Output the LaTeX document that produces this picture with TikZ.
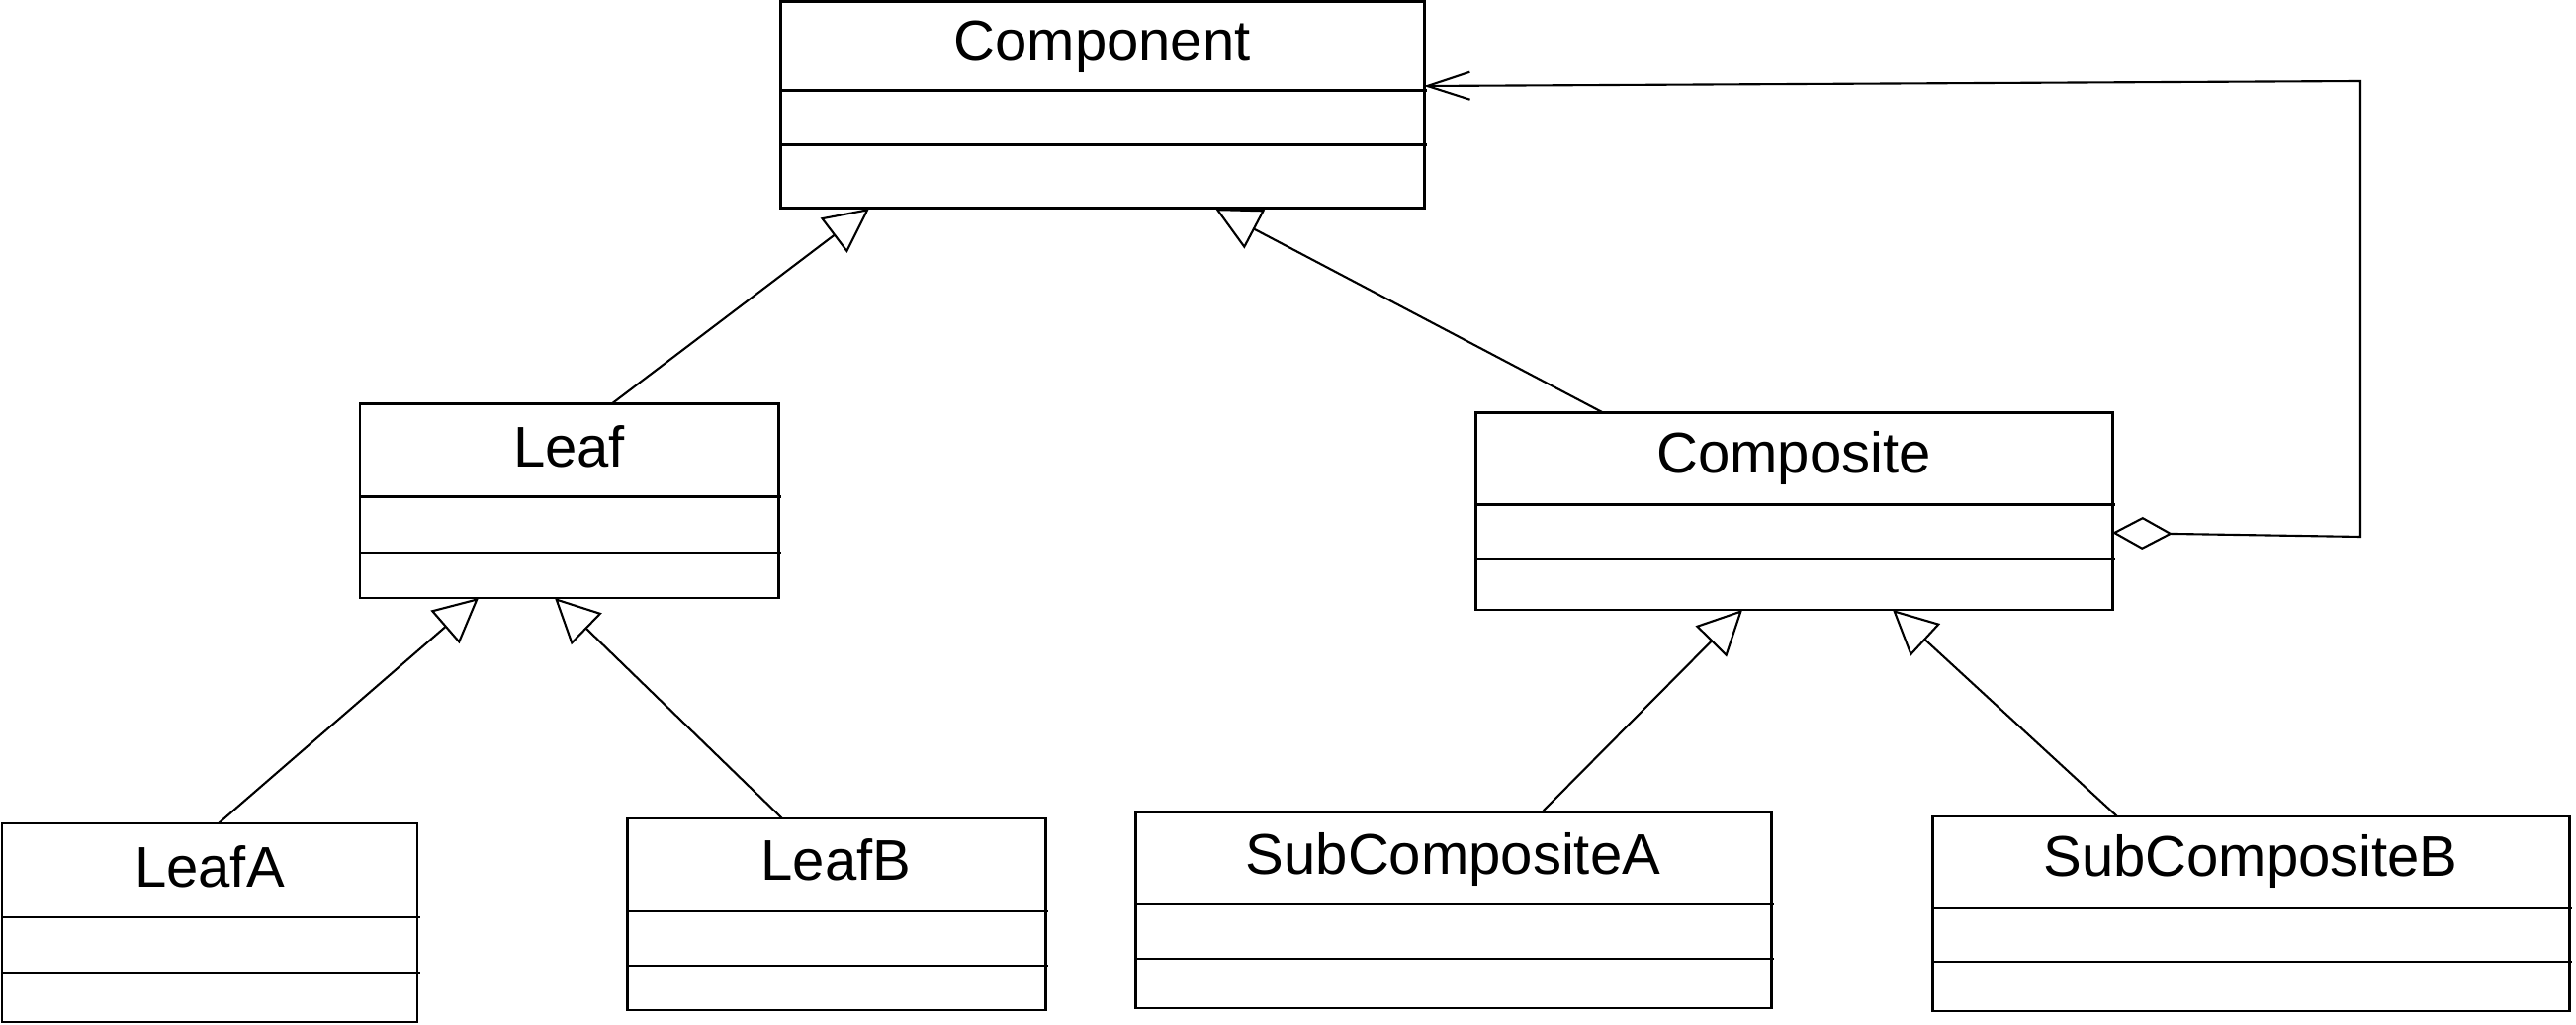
\documentclass[tikz,border=0pt]{standalone}
\usepackage{fontspec}
\setmainfont{Liberation Sans}
\usetikzlibrary{arrows.meta,fit,calc}
\tikzset{
  classbox/.style={draw, line width=0.85pt, inner sep=0pt, outer sep=0pt, rectangle},
  classtitle/.style={inner sep=0pt, anchor=base, font=\fontsize{16.5}{20}\selectfont},
  compline/.style={line width=0.85pt},
  generalize/.style={line width=0.6pt, -{Triangle[open, length=4.5mm, width=4.4mm]}},
  aggregate/.style={line width=0.6pt, {Diamond[open, length=6.1mm, width=3.3mm]}-{Straight Barb[length=4.3mm, width=2.8mm]}}
}
% #1 name, #2 x1, #3 y1, #4 x2, #5 y2, #6 line1, #7 line2, #8 baseline, #9 text
\newcommand\umlclass[9]{%
  \node[classbox, fit={(#2,#3) (#4,#5)}] (#1) {};
  \draw[compline] (#2,#6) -- (#4+3,#6);
  \draw[compline] (#2,#7) -- (#4+3,#7);
  \node[classtitle] (#1t) at ({(#2+#4)/2},#8) {#9};
}
\begin{document}
\begin{tikzpicture}[x=0.01cm, y=-0.01cm]
\useasboundingbox (0,0) rectangle (2605,1037);

\umlclass{comp}{789}{2}{1440}{211}{92}{147}{62}{Component}
\umlclass{leaf}{364}{409}{787}{605}{503}{559}{473}{Leaf}
\umlclass{cmpst}{1492}{418}{2136}{617}{511}{566}{479}{Composite}
\umlclass{leafa}{2}{833}{422}{1034}{928}{984}{898}{LeafA}
\umlclass{leafb}{634}{828}{1057}{1022}{922}{977}{891}{LeafB}
\umlclass{suba}{1148}{822}{1791}{1020}{915}{970}{885}{SubCompositeA}
\umlclass{subb}{1954}{826}{2598}{1023}{919}{973}{887}{SubCompositeB}

% generalizations
\draw[generalize] ($(leaf.north west)+(254,0)$) -- ($(comp.south west)+(90,0)$);
\draw[generalize] ($(cmpst.north west)+(130,0)$) -- ($(comp.south west)+(440,0)$);
\draw[generalize] ($(leafa.north west)+(219,0)$) -- ($(leaf.south west)+(120,0)$);
\draw[generalize] ($(leafb.north west)+(157,0)$) -- ($(leaf.south west)+(197,0)$);
\draw[generalize] ($(suba.north west)+(411,0)$) -- ($(cmpst.south west)+(270,0)$);
\draw[generalize] ($(subb.north west)+(187,0)$) -- ($(cmpst.south west)+(422,0)$);

% aggregation
\coordinate (aggA) at (2387,543);
\coordinate (aggB) at (2387,82);
\draw[aggregate] ($(cmpst.north east)+(0,121)$) -- (aggA) -- (aggB) -- ($(comp.north east)+(0,85)$);
\end{tikzpicture}
\end{document}
